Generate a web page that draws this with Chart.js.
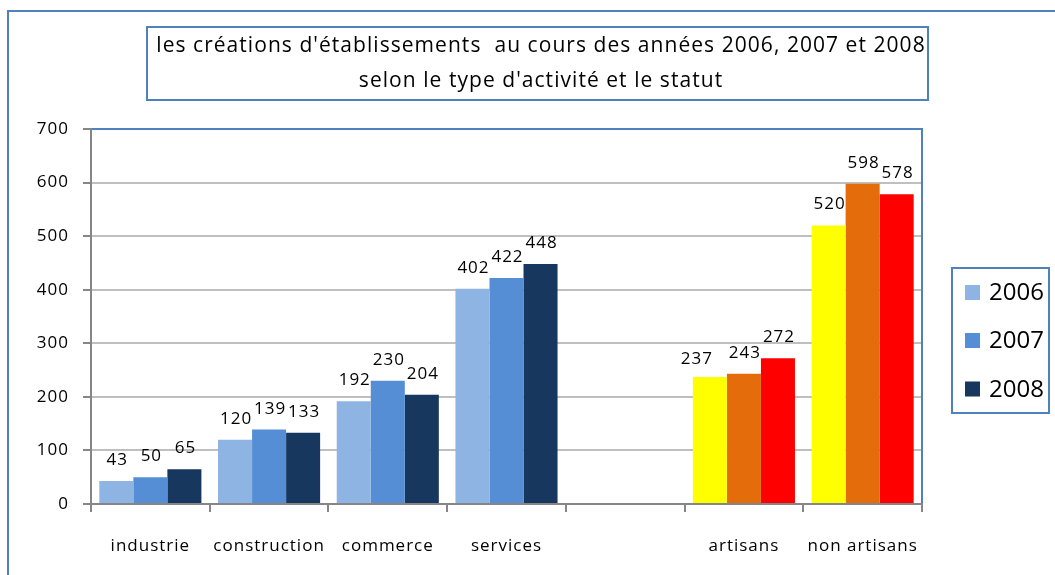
<!DOCTYPE html>
<html><head><meta charset="utf-8">
<script src="https://cdn.jsdelivr.net/npm/chart.js@4.4.1/dist/chart.umd.min.js"></script>
<style>html,body{margin:0;padding:0;background:#fff;overflow:hidden;}#wrap{width:1055px;height:575px;position:relative;}</style>
</head><body><div id="wrap"><canvas id="c" width="1055" height="575"></canvas></div>
<script>
// ---- data ----
const categories = ['industrie', 'construction', 'commerce', 'services', '', 'artisans', 'non artisans'];
const seriesLabels = ['2006', '2007', '2008'];
const values2006 = [43, 120, 192, 402, null, 237, 520];
const values2007 = [50, 139, 230, 422, null, 243, 598];
const values2008 = [65, 133, 204, 448, null, 272, 578];
const yTickMin = 0;
const yTickMax = 700;
const yTickStep = 100;
const titleLines = ["les créations d'établissements  au cours des années 2006, 2007 et 2008", "selon le type d'activité et le statut"];

// ---- styles ----
const activityColors = ['#8DB4E2', '#558ED5', '#17375E'];
const statusColors = ['#FFFF00', '#E46C0A', '#FF0000'];
const isStatus = [false, false, false, false, false, true, true];
const FONT = "'Open Sans', 'DejaVu Sans', sans-serif";
const BLUE = '#4F81BD';
// manual label nudges seen in the reference: key "dataset,category" -> [dx, dy]
const labelNudges = { '0,5': [-14, 3] };

function colorsFor(i) { return categories.map((c, k) => isStatus[k] ? statusColors[i] : activityColors[i]); }
const allValues = [values2006, values2007, values2008];

const decor = {
  id: 'decor',
  beforeDraw(chart) {
    const ctx = chart.ctx;
    ctx.save();
    ctx.fillStyle = '#fff';
    ctx.fillRect(0, 0, chart.width, chart.height);
    ctx.strokeStyle = BLUE; ctx.lineWidth = 2;
    ctx.strokeRect(8, 11, 1060, 580);
    // title box
    ctx.strokeRect(147, 27, 781, 73);
    ctx.fillStyle = '#000';
    ctx.font = '21px ' + FONT;
    ctx.letterSpacing = '1.05px';
    ctx.textAlign = 'center'; ctx.textBaseline = 'alphabetic';
    ctx.fillText(titleLines[0], 541, 52);
    ctx.fillText(titleLines[1], 541, 87);
    // legend
    ctx.letterSpacing = '0px';
    ctx.strokeRect(952, 268, 97, 145);
    const ys = [292.5, 340.5, 389];
    ctx.font = '24px ' + FONT;
    ctx.textAlign = 'left'; ctx.textBaseline = 'middle';
    seriesLabels.forEach((lab, i) => {
      ctx.fillStyle = activityColors[i];
      ctx.fillRect(965, ys[i] - 7.5, 15, 15);
      ctx.fillStyle = '#000';
      ctx.fillText(lab, 989, ys[i] + 1);
    });
    ctx.restore();
    ctx.letterSpacing = '1px';
  },
  afterDatasetsDraw(chart) {
    const ctx = chart.ctx;
    ctx.save();
    ctx.font = '17px ' + FONT;
    ctx.letterSpacing = '1px';
    ctx.fillStyle = '#000';
    ctx.textAlign = 'center'; ctx.textBaseline = 'alphabetic';
    chart.data.datasets.forEach((ds, di) => {
      const meta = chart.getDatasetMeta(di);
      meta.data.forEach((bar, k) => {
        const v = ds.data[k];
        if (v === null || v === undefined) return;
        const n = labelNudges[di + ',' + k] || [0, 0];
        ctx.fillText(String(v), bar.x + 1 + n[0], bar.y - 16 + n[1]);
      });
    });
    ctx.restore();
  },
  afterDraw(chart) {
    const ctx = chart.ctx; const a = chart.chartArea;
    ctx.save();
    ctx.strokeStyle = BLUE; ctx.lineWidth = 2;
    ctx.beginPath();
    ctx.moveTo(a.left + 1, a.top); ctx.lineTo(a.right, a.top); ctx.lineTo(a.right, a.bottom - 1);
    ctx.stroke();
    ctx.restore();
  }
};

new Chart(document.getElementById('c'), {
  type: 'bar',
  data: {
    labels: categories,
    datasets: allValues.map((vals, i) => ({
      label: seriesLabels[i],
      data: vals,
      backgroundColor: colorsFor(i),
      borderWidth: 0,
      categoryPercentage: 0.86,
      barPercentage: 1.0
    }))
  },
  options: {
    responsive: false, animation: false, devicePixelRatio: 1,
    layout: { padding: { top: 129, right: 133, left: 0, bottom: 0 } },
    plugins: { legend: { display: false }, title: { display: false }, tooltip: { enabled: false } },
    scales: {
      x: {
        grid: { offset: true, drawOnChartArea: false, drawTicks: true, tickLength: 8, tickColor: '#868686', tickWidth: 2, lineWidth: 2, color: '#868686' },
        border: { color: '#868686', width: 2 },
        ticks: { font: { family: FONT, size: 17 }, color: '#000', padding: 24, maxRotation: 0, autoSkip: false },
        afterFit(s) { s.height = 71; }
      },
      y: {
        min: yTickMin, max: yTickMax,
        ticks: { stepSize: yTickStep, font: { family: FONT, size: 17 }, color: '#000', padding: 14 },
        grid: { color: '#BFBFBF', lineWidth: 2, tickLength: 8, tickColor: '#868686', tickWidth: 2 },
        border: { color: '#868686', width: 2 },
        afterFit(s) { s.width = 91; }
      }
    }
  },
  plugins: [decor]
});
</script>
</body></html>
